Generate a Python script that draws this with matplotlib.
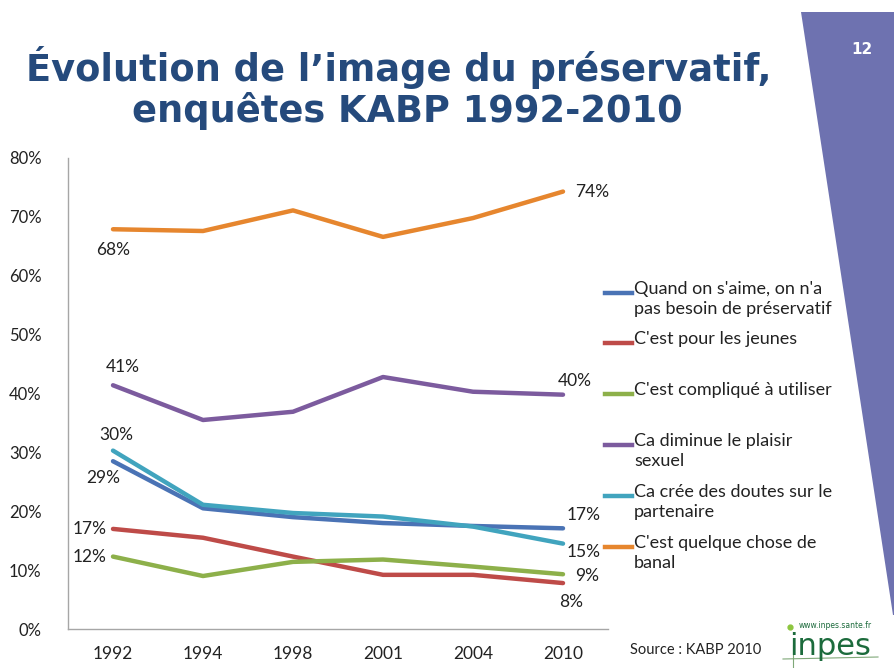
import matplotlib
matplotlib.use("Agg")
import matplotlib.pyplot as plt
from matplotlib.lines import Line2D
from matplotlib.patches import Polygon

years = ["1992", "1994", "1998", "2001", "2004", "2010"]
s_aime = [28.5, 20.5, 19.0, 18.0, 17.5, 17.1]
jeunes = [17.0, 15.5, 12.3, 9.2, 9.2, 7.8]
complique = [12.3, 9.0, 11.4, 11.8, 10.6, 9.3]
plaisir = [41.4, 35.5, 36.9, 42.8, 40.3, 39.8]
doutes = [30.3, 21.1, 19.7, 19.1, 17.4, 14.5]
banal = [67.9, 67.6, 71.1, 66.6, 69.8, 74.3]

series_names = [
    "Quand on s'aime, on n'a\npas besoin de préservatif",
    "C'est pour les jeunes",
    "C'est compliqué à utiliser",
    "Ca diminue le plaisir\nsexuel",
    "Ca crée des doutes sur le\npartenaire",
    "C'est quelque chose de\nbanal",
]
series_vals = [s_aime, jeunes, complique, plaisir, doutes, banal]
colors = ["#4A73B5", "#BE4B48", "#8DB04A", "#7C5B9E", "#41A4BE", "#E6862E"]

# data labels: (series index, point index, text, dx px, dy px, ha)
labels = [
    (5, 0, "68%", 0, -21, "center"),
    (5, 5, "74%", 12, 0, "left"),
    (3, 0, "41%", 10, 18, "center"),
    (3, 5, "40%", 12, 14, "center"),
    (4, 0, "30%", 3, 16, "center"),
    (0, 0, "29%", -10, -17, "center"),
    (1, 0, "17%", -6, 0, "right"),
    (2, 0, "12%", -6, 0, "right"),
    (0, 5, "17%", 4, 13, "left"),
    (4, 5, "15%", 4, -8, "left"),
    (2, 5, "9%", 12, -2, "left"),
    (1, 5, "8%", 8, -19, "center"),
]

W, H = 894, 668
fig = plt.figure(figsize=(W / 100, H / 100), dpi=100)
fig.patch.set_facecolor("white")

FONT = ["Lato", "DejaVu Sans"]

# purple side band
poly = Polygon([(801 / W, 1 - 12 / H), (1.0, 1 - 12 / H), (1.0, 1 - 615 / H), (893 / W, 1 - 615 / H)],
               closed=True, transform=fig.transFigure, facecolor="#6E72B0", edgecolor="none")
fig.add_artist(poly)
fig.text(862 / W, 1 - 50 / H, "12", color="white", fontsize=11, fontweight="bold",
         family=["DejaVu Sans"], ha="center", va="center")

# title
fig.text(399 / W, 1 - 81 / H, "Évolution de l’image du préservatif,", color="#254A7C",
         fontsize=26.5, fontweight="bold", family=["DejaVu Sans"],
         ha="center", va="baseline")
fig.text(407 / W, 1 - 122 / H, "enquêtes KABP 1992-2010", color="#254A7C",
         fontsize=26.5, fontweight="bold", family=["DejaVu Sans"],
         ha="center", va="baseline")

ax = fig.add_axes([68 / W, 1 - 629 / H, 540 / W, (629 - 158) / H])
x = list(range(len(years)))
for vals, c in zip(series_vals, colors):
    ax.plot(x, [v / 100 for v in vals], color=c, lw=3.2, solid_capstyle="round",
            solid_joinstyle="round")

for si, pi, txt, dx, dy, ha in labels:
    ax.annotate(txt, (x[pi], series_vals[si][pi] / 100), xytext=(dx, dy),
                textcoords="offset pixels", ha=ha, va="center", fontsize=12.5,
                family=FONT, color="#222222")

ax.set_xlim(-0.5, len(years) - 0.5)
ax.set_ylim(0, 0.8)
ax.set_xticks(x)
ax.set_xticklabels(years)
ax.set_yticks([i / 10 for i in range(9)])
ax.set_yticklabels([f"{i * 10}%" for i in range(9)])
ax.tick_params(axis="both", length=0, labelsize=12.5, colors="#222222")
ax.tick_params(axis="y", labelsize=12, pad=19)
ax.tick_params(axis="x", pad=12)
for lab in ax.get_xticklabels() + ax.get_yticklabels():
    lab.set_family(FONT)
for sp in ["top", "right"]:
    ax.spines[sp].set_visible(False)
for sp in ["left", "bottom"]:
    ax.spines[sp].set_color("#A6A6A6")
    ax.spines[sp].set_linewidth(1)
ax.patch.set_alpha(0)

# legend drawn manually
leg_y = [293, 343, 394, 445, 496, 547]
for name, c, yy in zip(series_names, colors, leg_y):
    fig.add_artist(Line2D([605 / W, 632 / W], [1 - yy / H, 1 - yy / H], color=c, lw=3.2,
                          transform=fig.transFigure))
    fig.text(634 / W, 1 - (yy - 12) / H, name, fontsize=13, family=FONT, color="#222222",
             ha="left", va="top", linespacing=1.3)

fig.text(630 / W, 1 - 650 / H, "Source : KABP 2010", fontsize=10.5, family=FONT,
         color="#222222", ha="left", va="center")

# logo
fig.text(830 / W, 1 - 655 / H, "inpes", fontsize=22, family=["DejaVu Sans"],
         color="#1C6B3C", ha="center", va="baseline")
fig.text(835 / W, 1 - 626 / H, "www.inpes.sante.fr", fontsize=5.5, family=["DejaVu Sans"],
         color="#1C6B3C", ha="center", va="center")
fig.add_artist(Line2D([790 / W], [1 - 627 / H], marker="o", markersize=3.5, color="#8DC63F",
                      lw=0, transform=fig.transFigure))
fig.add_artist(Line2D([783 / W, 878 / W], [1 - 659 / H, 1 - 657 / H], color="#7FA878", lw=0.8,
                      transform=fig.transFigure))
fig.add_artist(Line2D([793 / W, 793 / W], [1 - 645 / H, 0], color="#7FA878", lw=0.8,
                      transform=fig.transFigure))

fig.savefig("out.png", dpi=100, facecolor="white")
